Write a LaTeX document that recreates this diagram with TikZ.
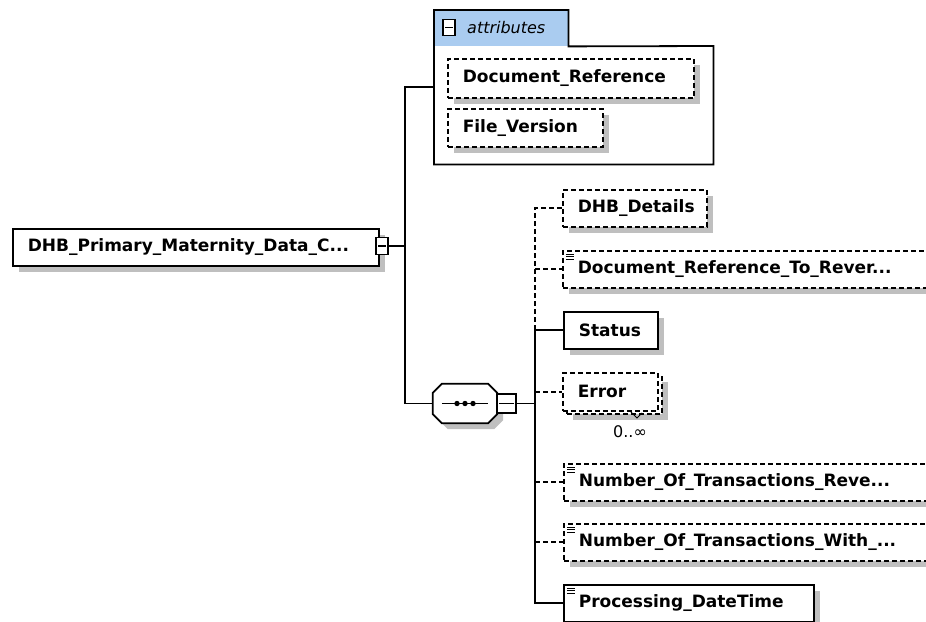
\documentclass[tikz,border=0pt]{standalone}
\usepackage{fontspec}
\setmainfont{DejaVu Sans}
\usetikzlibrary{shadows,positioning}
\definecolor{tabblue}{RGB}{170,204,240}
\tikzset{
    box/.style={
           rectangle,
           draw=black,
           line width=1.6pt,
           fill=white,
           anchor=north west,
           minimum height=37pt,
           inner xsep=15pt,
           inner ysep=0pt,
           align=left,
           font=\bfseries\fontsize{17}{20}\selectfont,
           },
    boxshadow/.style={
           drop shadow={shadow xshift=6pt, shadow yshift=-6pt, fill=black!25, opacity=1},
           },
    elem/.style={box, boxshadow},
    optional/.style={dash pattern=on 5pt off 3pt},
    simple/.style={
           path picture={
             \foreach \k in {0,1,2}
               \draw[solid, line width=0.9pt] ([xshift=3pt,yshift=-3.5pt-2.4pt*\k]path picture bounding box.north west) -- ++(8pt,0pt);
           },
           },
    toggle/.style={
           rectangle,
           draw=black,
           line width=1.4pt,
           fill=white,
           inner sep=0pt,
           minimum width=12pt,
           minimum height=16pt,
           path picture={
             \draw[line width=1.3pt] ([xshift=2pt]path picture bounding box.west) -- ([xshift=-2pt]path picture bounding box.east);
           },
           },
    link/.style={line width=1.8pt},
}

\begin{document}
\begin{tikzpicture}[x=1pt,y=-1pt]
\useasboundingbox (0,0) rectangle (926,621);

 \node[elem, text width=336pt] (ROOT) at (12,228) {DHB\_Primary\_Maternity\_Data\_C...};
 \node[toggle, minimum height=17pt] (ROOTTOG) at (382,246) {};

 % attributes group
 \node[rectangle, fill=white, anchor=north west, minimum width=279pt,
 minimum height=118pt, inner sep=0pt] (ATTR) at (434,46) {};
 \node[rectangle, fill=tabblue, anchor=north west, minimum width=134pt,
 minimum height=36pt, inner sep=0pt] (ATTRTAB) at (434,10) {};
 \draw[link] (ATTRTAB.north west) -- (ATTRTAB.north east) -- (ATTRTAB.south east)
   -- (ATTR.north east) -- (ATTR.south east) -- (ATTR.south west) -- cycle;
 \node[toggle] (ATTRTOG) at (449,27.5) {};
 \node[anchor=west, inner sep=0pt, font=\itshape\fontsize{16}{19}\selectfont] (ATTRLBL)
   at (467,28) {attributes};
 \node[elem, optional, text width=216pt, minimum height=39pt] (DOCREF) at (447,58) {Document\_Reference};
 \node[elem, optional, text width=125pt, minimum height=38pt] (FILEVER) at (447,108) {File\_Version};

 % sequence
 \node[rectangle, minimum width=64pt, minimum height=39pt, inner sep=0pt] (SEQ) at (465,403.5) {};
 \draw[link, fill=white, boxshadow] ([xshift=9pt]SEQ.north west) -- ([xshift=-9pt]SEQ.north east)
   -- ([yshift=-9pt]SEQ.north east) -- ([yshift=9pt]SEQ.south east)
   -- ([xshift=-9pt]SEQ.south east) -- ([xshift=9pt]SEQ.south west)
   -- ([yshift=9pt]SEQ.south west) -- ([yshift=-9pt]SEQ.north west) -- cycle;
 \draw[link] ([xshift=9pt]SEQ.west) -- ([xshift=-9pt]SEQ.east);
 \foreach \dx in {-8,0,8}
   \fill ([xshift=\dx pt]SEQ.center) circle (2.7pt);
 \node[toggle, minimum width=19pt, minimum height=19pt] (SEQTOG) at (506.5,403.5) {};

 \coordinate (RBUS) at (405,246);
 \coordinate (ATTRIN) at (434,87);
 \coordinate (CBUS) at (535,403.5);

 % children
 \node[elem, optional, text width=114pt] (DHB) at (562,189) {DHB\_Details};
 \node[elem, optional, simple, text width=400pt] (DOCREV) at (562,250) {Document\_Reference\_To\_Rever...};
 \node[elem, text width=64pt] (STATUS) at (563,311) {Status};
 \node[elem, optional, text width=65pt, minimum height=38pt] (ERRBACK) at (566,375) {};
 \node[box, optional, text width=65pt, minimum height=38pt] (ERROR) at (562,372) {Error};
 \node[inner sep=0pt, font=\fontsize{16}{19}\selectfont] (ERRMULT) at (630,432) {0..∞};
 \draw[line width=0.9pt] (630,411) -- (637,418) -- (642,413);
 \node[elem, optional, simple, text width=400pt] (NUMREV) at (563,463) {Number\_Of\_Transactions\_Reve...};
 \node[elem, optional, simple, text width=400pt] (NUMWITH) at (563,523) {Number\_Of\_Transactions\_With\_...};
 \node[elem, simple, text width=220pt] (PROC) at (563,584) {Processing\_DateTime};

 \draw[link] (ROOTTOG.east) -- (RBUS);
 \draw[link] (ATTRIN) -| (RBUS) |- (SEQ.west);
 \draw[link] (SEQTOG.east) -- (CBUS);
 \draw[link, optional] (DHB.west) -| (CBUS |- STATUS.west);
 \draw[link] (STATUS.west) -- (CBUS |- STATUS.west) |- (PROC.west);
 \path[link, optional]
   (CBUS |- DOCREV.west) edge (DOCREV.west)
   (CBUS |- ERROR.west) edge (ERROR.west)
   (CBUS |- NUMREV.west) edge (NUMREV.west)
   (CBUS |- NUMWITH.west) edge (NUMWITH.west);
\end{tikzpicture}
\end{document}
